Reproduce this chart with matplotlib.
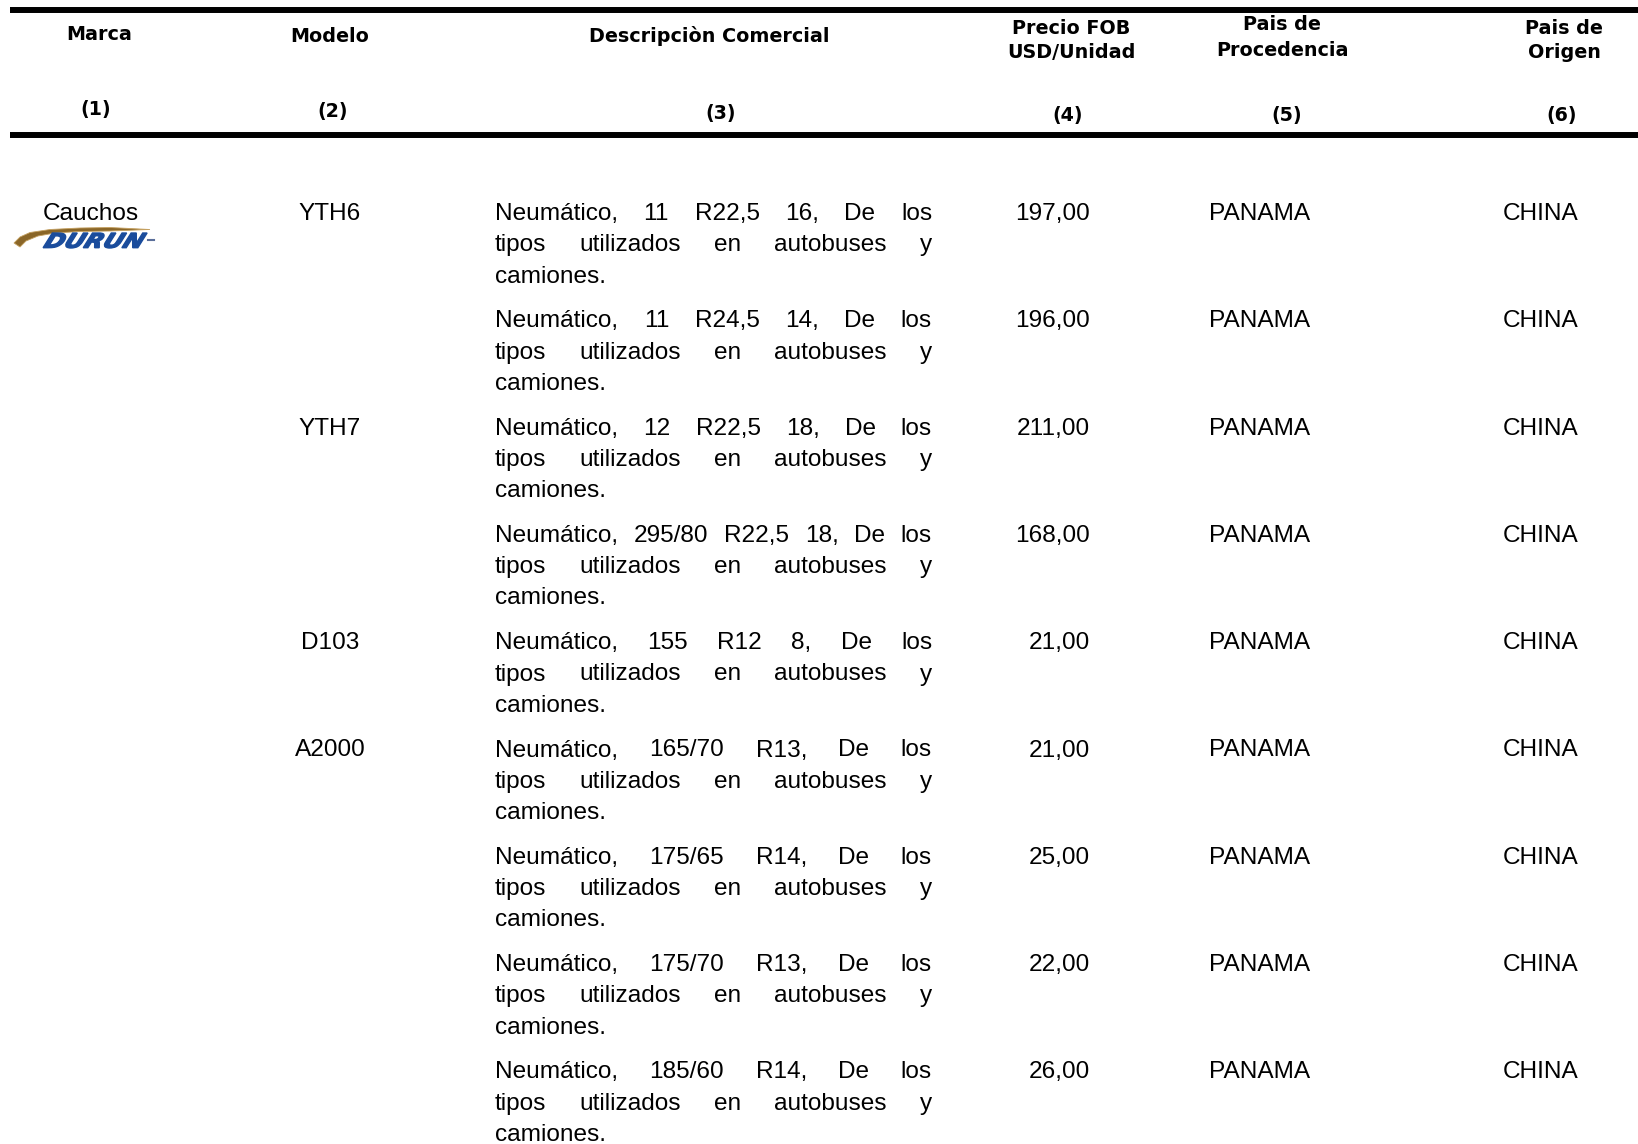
import matplotlib
matplotlib.use('Agg')
import matplotlib.pyplot as plt
from matplotlib.textpath import TextPath
from matplotlib.patches import PathPatch, Polygon
from matplotlib.font_manager import FontProperties
import matplotlib.transforms as mtransforms

# column headers and numbering
headers = [["Marca"], ["Modelo"], ["Descripciòn Comercial"],
           ["Precio FOB", "USD/Unidad"], ["Pais de", "Procedencia"], ["Pais de", "Origen"]]
header_nums = ["(1)", "(2)", "(3)", "(4)", "(5)", "(6)"]

# table contents
marca = "Cauchos"
modelos = ["YTH6", "", "YTH7", "", "D103", "A2000", "", "", ""]
medidas = ["11 R22,5 16", "11 R24,5 14", "12 R22,5 18", "295/80 R22,5 18", "155 R12 8",
           "165/70 R13", "175/65 R14", "175/70 R13", "185/60 R14"]
precios = [197.00, 196.00, 211.00, 168.00, 21.00, 21.00, 25.00, 22.00, 26.00]
procedencia = ["PANAMA"] * 9
origen = ["CHINA"] * 9

W, H = 1638, 1144
fig = plt.figure(figsize=(W / 100, H / 100), dpi=100)
ax = fig.add_axes([0, 0, 1, 1])
ax.set_xlim(0, W)
ax.set_ylim(H, 0)
ax.axis('off')

hfont = dict(family=['DejaVu Sans'], fontweight='bold', fontsize=13.8, color='black')
bfont = dict(family=['Liberation Sans', 'DejaVu Sans'], fontsize=17.6, color='black')

# header rules
ax.plot([10, W], [10, 10], color='black', lw=4.3, solid_capstyle='butt')
ax.plot([10, W], [135, 135], color='black', lw=4.3, solid_capstyle='butt')

# header text
hx = [99, 330, 709, 1071, 1282, 1564]
hy = [[34], [36], [36], [28, 53], [25, 50], [28, 52]]
nx = [96, 333, 721, 1068, 1287, 1562]
ny = [110, 112, 114, 116, 116, 116]
for i, lines in enumerate(headers):
    for txt, y in zip(lines, hy[i]):
        ax.text(hx[i], y, txt, ha='center', va='center', **hfont)
    ax.text(nx[i], ny[i], header_nums[i], ha='center', va='center', **hfont)

renderer = fig.canvas.get_renderer()


def justified(words, x0, x1, y):
    texts = [ax.text(x0, y, w, ha='left', va='baseline', **bfont) for w in words]
    widths = [t.get_window_extent(renderer).width for t in texts]
    gap = (x1 - x0 - sum(widths)) / (len(words) - 1)
    x = x0
    for t, w in zip(texts, widths):
        t.set_x(x)
        x += w + gap


row_step = 107.3
line_step = 31.3
desc_x0, desc_x1 = 495, 932

for i in range(len(medidas)):
    yb = 220 + i * row_step
    if modelos[i]:
        ax.text(330, yb, modelos[i], ha='center', va='baseline', **bfont)
    justified(("Neumático, " + medidas[i] + ", De los").split(), desc_x0, desc_x1, yb)
    justified("tipos utilizados en autobuses y".split(), desc_x0, desc_x1, yb + line_step)
    ax.text(desc_x0, yb + 2 * line_step, "camiones.", ha='left', va='baseline', **bfont)
    ax.text(1090, yb, f"{precios[i]:.2f}".replace('.', ','), ha='right', va='baseline', **bfont)
    ax.text(1209, yb, procedencia[i], ha='left', va='baseline', **bfont)
    ax.text(1503, yb, origen[i], ha='left', va='baseline', **bfont)

# brand
ax.text(91, 220, marca, ha='center', va='baseline', **bfont)

# DURUN logo: gold swoosh + blue italic lettering
swoosh = Polygon([(14, 243), (20, 237), (30, 232.5), (50, 229.5), (80, 228), (110, 227.5),
                  (150, 229.5), (110, 231), (80, 231.5), (55, 233), (38, 236), (26, 241),
                  (20, 247)],
                 closed=True, facecolor='#8a6628', edgecolor='#c4a060', lw=0.6)
ax.add_patch(swoosh)

tp = TextPath((0, 0), "DURUN", size=1,
              prop=FontProperties(family='DejaVu Sans', weight='bold', style='italic'))
bb = tp.get_extents()
tr = (mtransforms.Affine2D().translate(-bb.x0, -bb.y0)
      .skew_deg(18, 0)
      .scale(104 / (bb.width + bb.height * 0.32), -15 / bb.height).translate(43, 248))
ax.add_patch(PathPatch(tr.transform_path(tp), facecolor='#1a4c9c', edgecolor='#1a4c9c', lw=1.0))
ax.plot([148, 154], [240, 240], color='#5a6e9a', lw=1.5)

fig.savefig('out.png', dpi=100, facecolor='white')
